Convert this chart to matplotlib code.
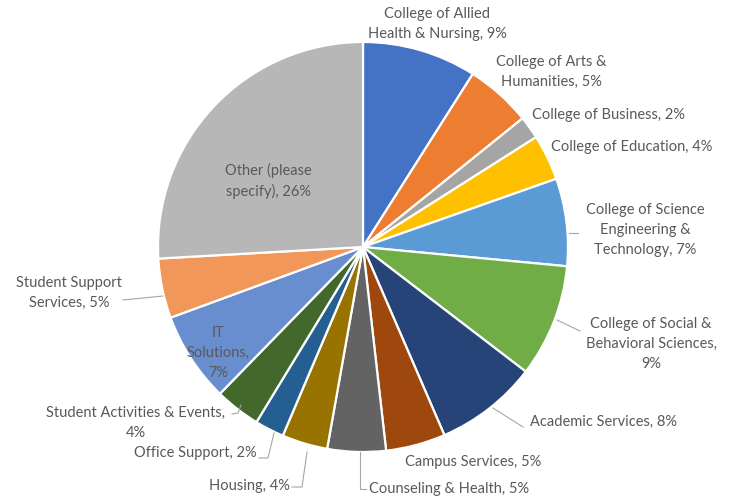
import matplotlib
matplotlib.use("Agg")
import matplotlib.pyplot as plt

# ---- data ----
categories = [
    "College of Allied Health & Nursing",
    "College of Arts & Humanities",
    "College of Business",
    "College of Education",
    "College of Science Engineering & Technology",
    "College of Social & Behavioral Sciences",
    "Academic Services",
    "Campus Services",
    "Counseling & Health",
    "Housing",
    "Office Support",
    "Student Activities & Events",
    "IT Solutions",
    "Student Support Services",
    "Other (please specify)",
]
values = [9.0, 5.2, 1.8, 3.6, 6.9, 8.9, 8.1, 4.7, 4.6, 3.6, 2.3, 3.6, 7.1, 4.7, 25.9]
colors = ["#4472C4", "#ED7D31", "#A5A5A5", "#FFC000", "#5B9BD5", "#70AD47",
          "#264478", "#9E480E", "#636363", "#997300", "#255E91", "#43682B",
          "#698ED0", "#F1975A", "#B7B7B7"]

# ---- layout (pixel coordinates of the 731x499 canvas) ----
W, H = 731, 499
CX, CY, R = 363, 247, 205
# per label: (x, y centre in px, word indices where lines break, alignment)
label_layout = [
    (437, 24, [3], "center"),
    (551, 72, [4], "center"),
    (609, 115, [], "center"),
    (632, 147, [], "center"),
    (645, 230, [3, 5], "center"),
    (651, 344, [4, 6], "center"),
    (604, 422, [], "center"),
    (473, 462, [], "center"),
    (449, 489, [], "center"),
    (249, 486, [], "center"),
    (195, 453, [], "center"),
    (136, 423, [4], "center"),
    (218, 353, [1, 2], "center"),
    (69, 293, [2], "center"),
    (268, 181, [2], "center"),
]
leaders = [
    [(569, 233), (578, 233)],
    [(557, 320), (580, 331)],
    [(493, 408), (523, 427)],
    [(360, 452), (360, 489), (366, 489)],
    [(307, 452), (302, 487), (292, 487)],
    [(274, 433), (268, 458), (259, 458)],
    [(241, 405), (238, 413), (232, 414)],
    [(163, 296), (123, 300)],
]

plt.rcParams['font.family'] = ['Lato', 'DejaVu Sans']

fig = plt.figure(figsize=(W / 100, H / 100), dpi=100)
ax = fig.add_axes([0, 0, 1, 1])

def py(y):
    return H - y

ax.pie(values, colors=colors, startangle=90, counterclock=False,
       center=(CX, py(CY)), radius=R, frame=True,
       wedgeprops=dict(edgecolor="white", linewidth=1.6))
ax.set_xlim(0, W)
ax.set_ylim(0, H)
ax.set_aspect("equal")
ax.axis("off")

total = sum(values)
def wrap(text, breaks):
    words = text.split(" ")
    lines, start = [], 0
    for b in breaks + [len(words)]:
        lines.append(" ".join(words[start:b]))
        start = b
    return "\n".join(lines)

for name, v, (x, y, br, ha) in zip(categories, values, label_layout):
    txt = wrap(f"{name}, {100 * v / total:.0f}%", br)
    ax.text(x, py(y), txt, ha=ha, va="center", fontsize=10.5,
            color="#595959", linespacing=1.55)

for pts in leaders:
    xs = [p[0] for p in pts]
    ys = [py(p[1]) for p in pts]
    ax.plot(xs, ys, color="#A6A6A6", linewidth=0.8)

fig.savefig("out.png", dpi=100)
